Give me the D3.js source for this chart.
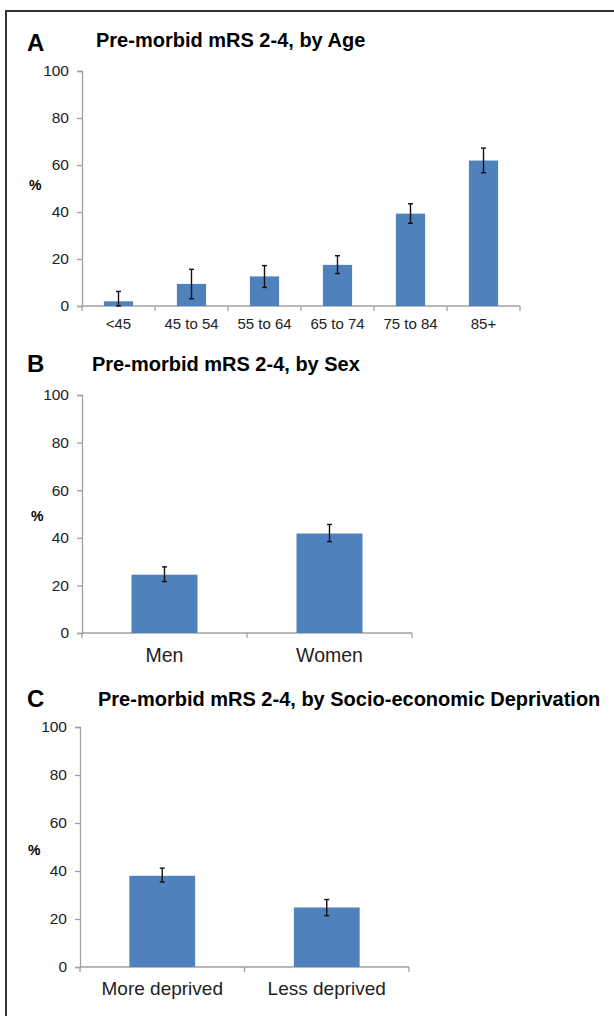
<!DOCTYPE html>
<html>
<head>
<meta charset="utf-8">
<script src="https://cdn.jsdelivr.net/npm/d3@7"></script>
<style>
  body { margin: 0; background: #fff; }
  text { font-family: "Liberation Sans", Arial, sans-serif; }
</style>
</head>
<body>
<svg width="614" height="1016"></svg>
<script>
// panel A: by age
const ageCats = ['<45', '45 to 54', '55 to 64', '65 to 74', '75 to 84', '85+'];
const ageVals = [2.0, 9.4, 12.6, 17.5, 39.3, 61.9];
const ageLo   = [0.0, 3.1, 7.9, 13.8, 35.2, 56.7];
const ageHi   = [6.2, 15.6, 17.2, 21.4, 43.5, 67.2];

// panel B: by sex
const sexCats = ['Men', 'Women'];
const sexVals = [24.5, 41.8];
const sexLo   = [21.6, 38.4];
const sexHi   = [27.8, 45.6];

// panel C: by deprivation
const depCats = ['More deprived', 'Less deprived'];
const depVals = [38.0, 24.8];
const depLo   = [35.4, 21.4];
const depHi   = [41.2, 28.1];

const yTicks = [0, 20, 40, 60, 80, 100];

const svg = d3.select('svg');

// frame round the whole figure
svg.append('rect')
  .attr('x', 6).attr('y', 11)
  .attr('width', 700).attr('height', 1100)
  .attr('fill', 'none')
  .attr('stroke', '#333')
  .attr('stroke-width', 2);

const panels = [
  { letter: 'A', title: 'Pre-morbid mRS 2-4, by Age', cats: ageCats, vals: ageVals, lo: ageLo, hi: ageHi,
    x0: 82, x1: 520, yTop: 71, yBot: 306, letterPos: [27, 51], titlePos: [96, 47], pctPos: [29, 190],
    labelSize: 15, labelY: 329 },
  { letter: 'B', title: 'Pre-morbid mRS 2-4, by Sex', cats: sexCats, vals: sexVals, lo: sexLo, hi: sexHi,
    x0: 82, x1: 412, yTop: 395, yBot: 633, letterPos: [27, 372], titlePos: [92, 371], pctPos: [31, 521],
    labelSize: 19.5, labelY: 662 },
  { letter: 'C', title: 'Pre-morbid mRS 2-4, by Socio-economic Deprivation', cats: depCats, vals: depVals, lo: depLo, hi: depHi,
    x0: 80, x1: 409, yTop: 727, yBot: 967, letterPos: [27, 707], titlePos: [98, 706], pctPos: [28, 855],
    labelSize: 19, labelY: 995 }
];

const drawPanel = p => {
  const g = svg.append('g');

  const x = d3.scaleBand().domain(p.cats).range([p.x0, p.x1]).padding(0);
  const y = d3.scaleLinear().domain([0, 100]).range([p.yBot, p.yTop]);
  const barW = x.bandwidth() * 0.4;

  // y axis
  const yAxisG = g.append('g')
    .attr('transform', `translate(${p.x0},0)`)
    .call(d3.axisLeft(y).tickValues(yTicks).tickSize(5).tickPadding(8));
  yAxisG.selectAll('text').attr('font-size', 15.5).attr('fill', '#222')
    .style('font-family', '"Liberation Sans", Arial, sans-serif');

  // x axis with ticks at category boundaries
  const bounds = p.cats.map(c => x(c)).concat([p.x1]);
  const xAxisG = g.append('g');
  xAxisG.append('line')
    .attr('x1', p.x0).attr('x2', p.x1)
    .attr('y1', p.yBot).attr('y2', p.yBot);
  xAxisG.selectAll('line.tick').data(bounds).enter().append('line')
    .attr('class', 'tick')
    .attr('x1', d => d).attr('x2', d => d)
    .attr('y1', p.yBot).attr('y2', p.yBot + 5);
  xAxisG.selectAll('line').attr('stroke', '#a0a0a0').attr('stroke-width', 1.3);
  yAxisG.selectAll('path, line').attr('stroke', '#a0a0a0').attr('stroke-width', 1.3);

  xAxisG.selectAll('text').data(p.cats).enter().append('text')
    .attr('x', d => x(d) + x.bandwidth() / 2)
    .attr('y', p.labelY)
    .attr('text-anchor', 'middle')
    .attr('font-size', p.labelSize)
    .attr('fill', '#222')
    .text(d => d);

  // bars
  g.selectAll('rect.bar').data(p.cats).enter().append('rect')
    .attr('class', 'bar')
    .attr('x', d => x(d) + (x.bandwidth() - barW) / 2)
    .attr('width', barW)
    .attr('y', (d, i) => y(p.vals[i]))
    .attr('height', (d, i) => y(0) - y(p.vals[i]))
    .attr('fill', '#4f81bd');

  // error bars
  const eb = g.selectAll('g.err').data(p.cats).enter().append('g')
    .attr('class', 'err')
    .attr('stroke', '#111')
    .attr('stroke-width', 1.4);
  const cx = d => x(d) + x.bandwidth() / 2;
  eb.append('line')
    .attr('x1', cx).attr('x2', cx)
    .attr('y1', (d, i) => y(p.lo[i])).attr('y2', (d, i) => y(p.hi[i]));
  eb.append('line')
    .attr('x1', d => cx(d) - 2.5).attr('x2', d => cx(d) + 2.5)
    .attr('y1', (d, i) => y(p.hi[i])).attr('y2', (d, i) => y(p.hi[i]));
  eb.append('line')
    .attr('x1', d => cx(d) - 2.5).attr('x2', d => cx(d) + 2.5)
    .attr('y1', (d, i) => y(p.lo[i])).attr('y2', (d, i) => y(p.lo[i]));

  // letter, title, unit
  g.append('text')
    .attr('x', p.letterPos[0]).attr('y', p.letterPos[1])
    .attr('font-size', 24).attr('font-weight', 'bold')
    .text(p.letter);
  g.append('text')
    .attr('x', p.titlePos[0]).attr('y', p.titlePos[1])
    .attr('font-size', 20).attr('font-weight', 'bold')
    .text(p.title);
  g.append('text')
    .attr('x', p.pctPos[0]).attr('y', p.pctPos[1])
    .attr('font-size', 14).attr('font-weight', 'bold')
    .text('%');
};

panels.forEach(drawPanel);
</script>
</body>
</html>
